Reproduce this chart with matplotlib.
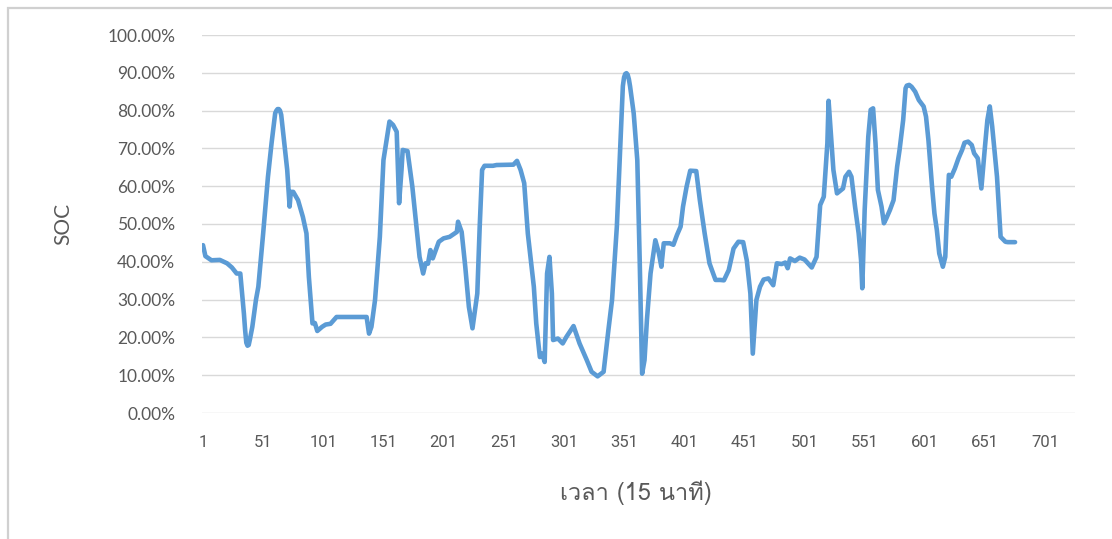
import matplotlib
matplotlib.use("Agg")
import matplotlib.pyplot as plt
from matplotlib import font_manager
from matplotlib.ticker import FixedLocator, FuncFormatter

# Time step (15-minute intervals) and state of charge (%) along the curve
period = [1, 3, 8, 15, 21, 25, 29, 32, 35, 36, 37, 38, 39, 40, 42, 45, 47, 51, 55, 58, 61, 62, 63, 64, 65, 66,
          68, 71, 73, 74, 76, 80, 84, 87, 89, 92, 94, 96, 100, 103, 107, 112, 137, 139, 141, 144,
          148, 151, 154, 156, 159, 162, 164, 166, 167, 171, 175, 179, 181, 184, 186, 188, 190, 192, 197, 201,
          206, 212, 213, 216, 219, 222, 225, 229, 231, 233, 235, 242, 245, 259, 262, 265, 268, 271, 276, 278,
          281, 283, 285, 287, 289, 291, 292, 296, 300, 303, 309, 314, 320, 324, 329, 334, 338, 341, 345, 348,
          350, 351, 352, 353, 354, 355, 356, 359, 362, 364, 366, 368, 370, 373, 377, 380, 382, 384, 389, 392, 395, 398, 400, 403,
          406, 411, 414, 418, 422, 427, 431, 434, 438, 442, 446, 450, 453, 456, 458, 461, 464, 467, 471, 475,
          478, 482, 485, 487, 489, 493, 497, 501, 507, 511, 514, 517, 520, 521, 523, 525, 528, 531, 533, 535,
          538, 540, 543, 546, 548, 549, 551, 554, 556, 558, 560, 562, 565, 567, 569, 572, 575, 578, 580, 583,
          585, 586, 588, 590, 593, 596, 600, 602, 604, 607, 609, 611, 613, 616, 618, 619, 621, 623, 626, 629, 632, 634,
          637, 640, 642, 645, 648, 651, 653, 655, 657, 661, 664, 668, 670, 676]
soc = [44.4, 41.5, 40.4, 40.5, 39.6, 38.5, 36.9, 36.9, 26.3, 22.0, 18.6, 17.8, 18.0, 19.5, 22.8, 29.9, 33.4, 47.5, 62.5, 71.4, 79.3, 80.0, 80.4, 80.4, 80.0, 78.9,
       73.1, 64.3, 54.6, 58.5, 58.5, 56.3, 51.9, 47.5, 36.0, 23.7, 23.8, 21.7, 22.8, 23.4, 23.6, 25.4, 25.4, 21.0, 22.8, 29.9,
       46.6, 66.9, 73.1, 77.1, 76.2, 74.4, 55.5, 64.3, 69.6, 69.3, 59.9, 47.5, 41.3, 36.9, 39.6, 39.5, 43.1, 40.9, 45.3, 46.2,
       46.6, 47.9, 50.6, 47.9, 38.7, 28.1, 22.4, 31.6, 49.3, 64.3, 65.4, 65.4, 65.6, 65.7, 66.7, 64.3, 60.8, 47.5, 33.4, 23.7,
       14.8, 15.7, 13.5, 36.9, 41.3, 31.6, 19.3, 19.7, 18.4, 20.1, 23.0, 18.4, 14.0, 10.9, 9.7, 10.9, 22.0, 29.9, 49.3, 71.4,
       86.5, 88.8, 89.7, 89.9, 89.5, 88.3, 86.4, 79.3, 66.9, 40.4, 10.4, 14.0, 24.6, 36.9, 45.7, 42.2, 38.7, 44.9, 44.9, 44.5, 47.1, 49.3, 54.6, 59.9,
       64.1, 64.0, 56.3, 47.5, 39.6, 35.2, 35.2, 35.1, 37.8, 43.5, 45.3, 45.2, 40.4, 31.6, 15.7, 29.9, 33.4, 35.3, 35.6, 33.8,
       39.6, 39.4, 39.8, 38.3, 40.9, 40.2, 41.1, 40.6, 38.5, 41.3, 55.0, 57.2, 71.4, 82.6, 73.6, 64.3, 58.1, 58.9, 59.4, 62.5,
       63.8, 62.5, 54.6, 47.5, 40.4, 33.0, 53.7, 73.1, 80.2, 80.6, 71.4, 59.0, 54.6, 50.2, 51.5, 53.7, 56.3, 65.2, 69.6, 77.5,
       85.9, 86.6, 86.8, 86.3, 85.0, 82.8, 81.1, 78.4, 72.2, 59.9, 52.8, 48.4, 42.2, 38.7, 41.3, 49.3, 63.0, 62.5, 64.7, 67.4, 69.6, 71.5,
       71.8, 70.9, 68.7, 67.4, 59.4, 70.5, 77.5, 81.1, 75.8, 62.5, 46.6, 45.3, 45.2, 45.2]

x_ticks = [1, 51, 101, 151, 201, 251, 301, 351, 401, 451, 501, 551, 601, 651, 701]
y_ticks = [0, 10, 20, 30, 40, 50, 60, 70, 80, 90, 100]
x_title = "เวลา (15 นาที)"
y_title = "SOC"


def family_covering(char):
    """Return the name of an installed font family that has a glyph for char."""
    try:
        from fontTools.ttLib import TTFont
    except Exception:
        return None
    for entry in font_manager.fontManager.ttflist:
        try:
            font = TTFont(entry.fname, fontNumber=0, lazy=True)
            cmap = font.getBestCmap()
        except Exception:
            continue
        if cmap and ord(char) in cmap:
            return entry.name
    return None


thai_family = family_covering("เ")
title_families = ([thai_family] if thai_family else []) + ["Lato", "DejaVu Sans"]

TEXT = "#595959"
GRID = "#d9d9d9"
LINE = "#5b9bd5"

fig = plt.figure(figsize=(11.12, 5.39), dpi=100)
ax = fig.add_axes([202.4 / 1112, 1 - 413 / 539, 872.2 / 1112, 378 / 539])

ax.plot(period, soc, color=LINE, linewidth=3.3, solid_joinstyle="round",
        solid_capstyle="round", zorder=3)

ax.set_xlim(0.5, 725.5)
ax.set_ylim(0, 100)
ax.yaxis.set_major_locator(FixedLocator(y_ticks))
ax.yaxis.set_major_formatter(FuncFormatter(lambda v, _: f"{v:.2f}%"))
ax.xaxis.set_major_locator(FixedLocator(x_ticks))
ax.grid(axis="y", color=GRID, linewidth=1.0, zorder=0)
ax.set_axisbelow(True)
for spine in ax.spines.values():
    spine.set_visible(False)
ax.tick_params(axis="both", length=0)
ax.tick_params(axis="y", pad=19.5, labelcolor=TEXT)
ax.tick_params(axis="x", pad=16, labelcolor=TEXT)
for lbl in ax.get_yticklabels():
    lbl.set_fontfamily(["Lato", "DejaVu Sans"])
    lbl.set_fontsize(12.5)
for lbl in ax.get_xticklabels():
    lbl.set_fontfamily(["Roboto", "DejaVu Sans"])
    lbl.set_fontsize(12)

fig.text(63 / 1112, 1 - 224 / 539, y_title, rotation=90, ha="center", va="center",
         color=TEXT, fontsize=15, family=["Lato", "DejaVu Sans"])
fig.text(636 / 1112, 1 - 493 / 539, x_title, ha="center", va="center",
         color=TEXT, fontsize=17, family=title_families)

# light frame around the chart area (top and left edges visible)
frame = plt.Rectangle((7.5 / 1112, -0.05), 1.2, 1 - 7.5 / 539 + 0.05,
                      transform=fig.transFigure, fill=False,
                      edgecolor="#d0d0d0", linewidth=1.6)
fig.patches.append(frame)

fig.savefig("out.png", dpi=100, facecolor="white")
